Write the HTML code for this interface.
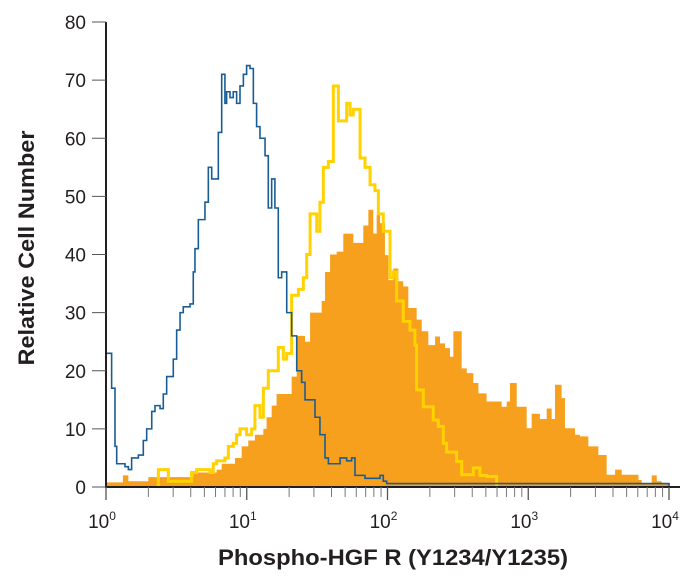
<!DOCTYPE html>
<html><head><meta charset="utf-8"><style>
html,body{margin:0;padding:0;background:#fff;}
svg{display:block;font-family:"Liberation Sans",sans-serif;}
</style></head><body>
<svg id="chart" width="698" height="584" viewBox="0 0 698 584"></svg>
<script>
// Data (log10 fluorescence bin starts, counts)
const blueL=[0,0.04,0.064,0.076,0.135,0.159,0.182,0.23,0.265,0.289,0.325,0.348,0.384,0.407,0.431,0.478,0.502,0.526,0.549,0.597,0.62,0.632,0.656,0.703,0.727,0.751,0.798,0.822,0.845,0.857,0.881,0.904,0.928,0.952,0.976,0.999,1.023,1.047,1.07,1.094,1.13,1.153,1.177,1.2,1.224,1.248,1.284,1.319,1.355,1.39,1.414,1.461,1.485,1.52,1.556,1.58,1.627,1.663,1.71,1.745,1.769,1.84,1.947,1.97,1.994];
const blueV=[23,17,7,4,3.5,3,5,5.5,8,10,13,14,13.5,16,19,22,27,30,31,31.5,37,41,46,49,55,53,61,71,66,68,67,68,66,69,71,72.5,72,66,62,60,57,48,53,48,36,37,30,26,20,18,15,15,12,9,5,4,4,5,4.5,5,2,1.5,2,1,0.6];
const yellowL=[0.372,0.407,0.443,0.608,0.644,0.739,0.762,0.786,0.845,0.869,0.904,0.928,0.952,0.999,1.035,1.058,1.094,1.118,1.153,1.189,1.224,1.26,1.284,1.319,1.367,1.402,1.426,1.45,1.497,1.52,1.544,1.58,1.615,1.651,1.71,1.734,1.757,1.805,1.84,1.876,1.911,1.935,1.97,2.018,2.041,2.065,2.112,2.16,2.195,2.207,2.254,2.325,2.361,2.396,2.42,2.491,2.527,2.61,2.657,2.704];
const yellowV=[3,3,1,2.5,3,2.5,4,4.5,5,7,7.5,9,10,9,10,14,12,17,20,20,24,22,23,33,34,36,40,47,44,49,55,56,69,63,66,64,65,56.6,55,52,51,47,44,36,37,32,28.5,27,24.4,16.7,13.8,11.5,10.4,7.5,6,4.4,2.1,3.3,2,1.8];
const yellowEnd=2.775;
const orangeL=[0,0.12,0.159,0.301,0.62,0.786,0.822,0.916,0.964,1.011,1.058,1.118,1.141,1.177,1.212,1.319,1.355,1.414,1.45,1.52,1.532,1.556,1.592,1.639,1.686,1.757,1.828,1.864,1.899,1.923,1.947,1.982,2.006,2.041,2.077,2.112,2.148,2.207,2.243,2.29,2.338,2.373,2.409,2.444,2.468,2.527,2.563,2.61,2.646,2.704,2.811,2.847,2.87,2.918,2.989,3.024,3.083,3.131,3.166,3.19,3.237,3.261,3.332,3.367,3.427,3.498,3.557,3.617,3.664,3.783,3.806,3.877,3.913,3.948];
const orangeV=[0.8,2,1,1.7,2.5,3,4,5,7,8,9,10,12,14,16,19,26,25,30,30,32,37,40,40.5,43.6,42,45,47.7,43.6,46.8,45.4,39.9,35.6,37.6,35.4,34.5,30.8,28.8,26.8,24.4,25.9,24.7,23.9,22.4,26.8,20.4,19.6,17.9,16.1,14.7,13.8,14.7,17.9,13.8,10.1,12.6,11.7,13.5,11.7,17.6,15.3,10.1,9,8.7,7,5.5,2.1,3,2.1,1.2,0.6,2,1,0.5];
const yTicks=[0,10,20,30,40,50,60,70,80];
const xDecades=[0,1,2,3,4];

const NS="http://www.w3.org/2000/svg";
const svg=document.getElementById('chart');
const X0=106,DEC=140.75,Y0=487,PER=5.8125;
const sx=L=>X0+L*DEC;
const sy=v=>Y0-v*PER;
function mk(tag,attrs){const e=document.createElementNS(NS,tag);for(const k in attrs)e.setAttribute(k,attrs[k]);svg.appendChild(e);return e;}
function stepPath(Ls,Vs,end,close){
  const n=Math.min(Ls.length,Vs.length);
  let d=`M${sx(Ls[0])},${sy(0)}`;
  for(let i=0;i<n;i++){const x1=sx(Ls[i]),x2=sx(i+1<n?Ls[i+1]:end);d+=`L${x1},${sy(Vs[i])}L${x2},${sy(Vs[i])}`;}
  d+=`L${sx(end)},${sy(0)}`;
  if(close)d+='Z';
  return d;
}
let p=mk('path',{d:stepPath(orangeL,orangeV,4,true),fill:'#f6a01e',stroke:'none'});


p=mk('path',{d:stepPath(yellowL,yellowV,yellowEnd,false),fill:'none',stroke:'#ffd200','stroke-width':3});


p=mk('path',{d:stepPath(blueL,blueV,4,false),fill:'none',stroke:'#1a5d94','stroke-width':1.6});



// axes
let a=mk('line',{x1:X0,y1:sy(80),x2:X0,y2:Y0+1,stroke:'#231f20','stroke-width':2});


a=mk('line',{x1:X0-1,y1:Y0,x2:680,y2:Y0,stroke:'#231f20','stroke-width':2});


yTicks.forEach(v=>{
  const t=mk('line',{x1:92,y1:sy(v),x2:X0,y2:sy(v),stroke:'#555','stroke-width':1});
  
  
  const l=mk('text',{x:86,y:sy(v)+7,'text-anchor':'end','font-size':19,fill:'#231f20'});
  l.textContent=v;
  
  
});
xDecades.forEach(d=>{
  const t=mk('line',{x1:sx(d),y1:Y0,x2:sx(d),y2:Y0+13,stroke:'#555','stroke-width':1.3});
  
  
  if(d<4)for(let m=2;m<=9;m++){
    const mt=mk('line',{x1:sx(d+Math.log10(m)),y1:Y0,x2:sx(d+Math.log10(m)),y2:Y0+10,stroke:'#777','stroke-width':1});
    
    
  }
  const l=mk('text',{x:sx(d)-4,y:528,'text-anchor':'middle','font-size':19,fill:'#231f20'});
  l.innerHTML='10<tspan dy="-8" font-size="12">'+d+'</tspan>';
  
  
});
let tt=mk('text',{x:218,y:565,'font-size':22,'font-weight':'bold',fill:'#231f20',textLength:350,lengthAdjust:'spacingAndGlyphs'});
tt.textContent='Phospho-HGF R (Y1234/Y1235)';


tt=mk('text',{x:0,y:0,'font-size':22,'font-weight':'bold',fill:'#231f20','text-anchor':'middle',textLength:235,lengthAdjust:'spacingAndGlyphs',transform:'translate(34,248) rotate(-90)'});
tt.textContent='Relative Cell Number';


</script>
</body></html>
